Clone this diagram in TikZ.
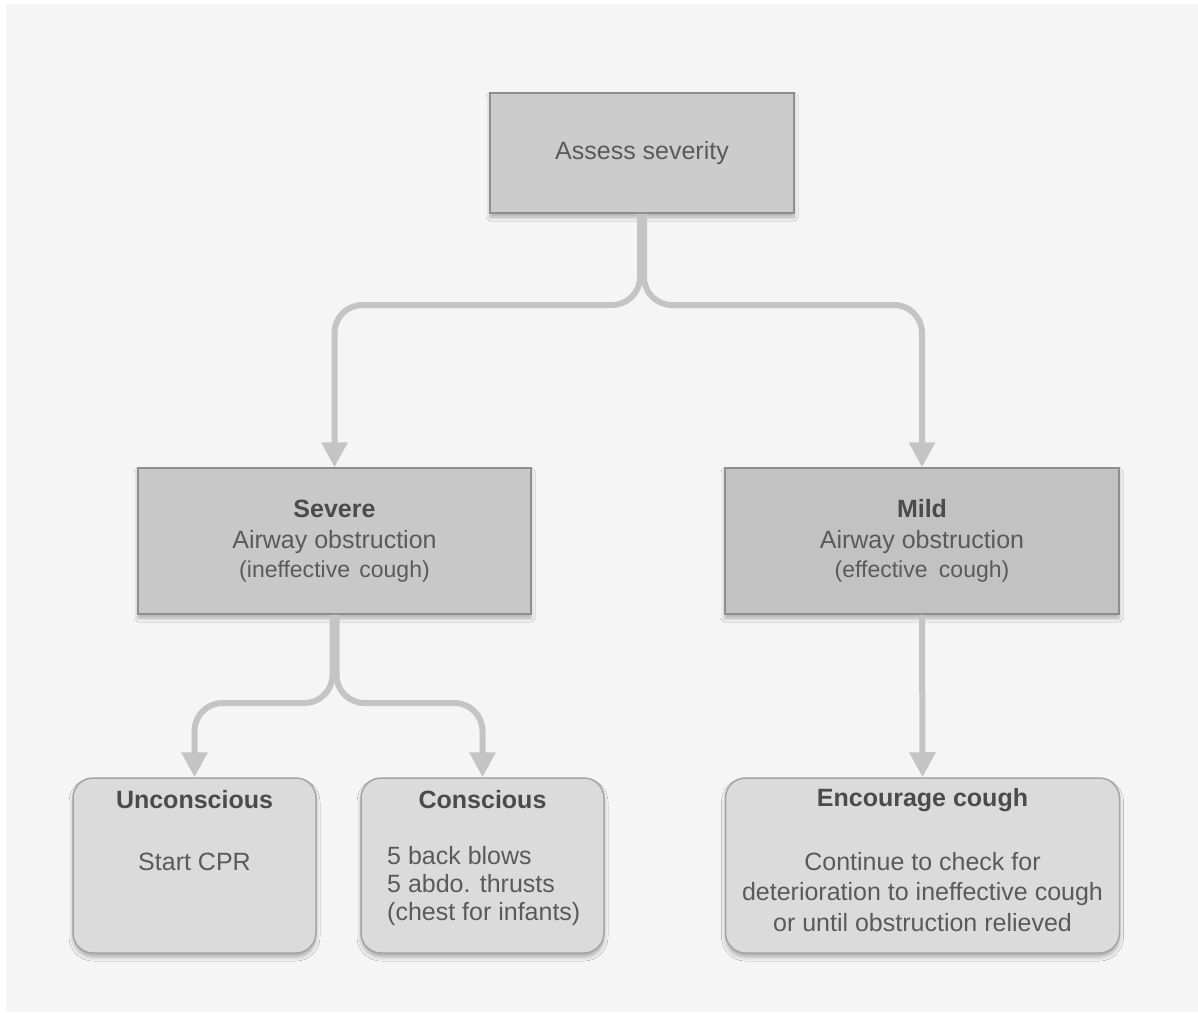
\documentclass[tikz,border=0pt]{standalone}
\usepackage{fontspec}
\setmainfont{Liberation Sans}
\usepackage{tikz}
\usetikzlibrary{arrows.meta,calc,shadows.blur}
\definecolor{bgpanel}{HTML}{F5F5F5}
\definecolor{linkgray}{HTML}{C4C4C4}
\definecolor{topedge}{HTML}{8E8E8E}
\definecolor{lowedge}{HTML}{A4A4A4}
\definecolor{txtgray}{HTML}{5A5A5A}
\definecolor{ttlgray}{HTML}{4B4B4B}
\newcommand{\bigtxt}{\fontsize{25}{31}\selectfont}
\newcommand{\smtxt}{\fontsize{23}{28}\selectfont}
\tikzset{
  linkln/.style   = {line width=6pt, draw=linkgray, rounded corners=28pt,
                     -{Triangle[length=25pt,width=25pt]}},
  softshadow/.style = {blur shadow={shadow xshift=0pt, shadow yshift=-4pt,
                     shadow blur radius=4pt, shadow opacity=30}},
  rectbox/.style  = {draw=topedge, line width=1.5pt, softshadow,
                     text=txtgray, font=\bigtxt, align=center, inner sep=0pt},
  roundbox/.style = {draw=lowedge, line width=1.5pt, fill=black!14,
                     rounded corners=20pt, softshadow, inner sep=0pt,
                     minimum width=243pt, minimum height=175pt},
  titletxt/.style = {font=\bigtxt\bfseries, text=ttlgray, inner sep=0pt},
  bodytxt/.style  = {font=\fontsize{25}{29}\selectfont, text=txtgray, inner sep=0pt}
}

\begin{document}
\begin{tikzpicture}[x=1pt,y=-1pt]
  \useasboundingbox (0,0) rectangle (1198,1012);
  \fill[bgpanel] (6,4) rectangle (1198,1012);

  % first level
  \node[rectbox,fill=black!20,minimum width=304pt,minimum height=120pt]
       (assess) at (642,153) {Assess severity};
  \node[rectbox,fill=black!21.5,minimum width=393pt,minimum height=146pt]
       (severe) at (334.5,541)
       {\textbf{\color{ttlgray}Severe}\\Airway obstruction\\[-2pt]
        {\smtxt (ineffective\hspace{3pt} cough)}};
  \node[rectbox,fill=black!24,minimum width=394pt,minimum height=146pt]
       (mild) at (922,541)
       {\textbf{\color{ttlgray}Mild}\\Airway obstruction\\[-2pt]
        {\smtxt (effective\hspace{5pt} cough)}};

  % bottom boxes
  \node[roundbox] (unc) at (194.5,865.5) {};
  \node[roundbox] (con) at (482.5,865.5) {};
  \node[roundbox,minimum width=394pt] (enc) at (922.5,865.5) {};

  \node[titletxt] (unc-title) at (194.5,800) {Unconscious};
  \node[bodytxt] (unc-body) at (194.5,862) {Start CPR};
  \node[titletxt] (con-title) at (482.5,800) {Conscious};
  \node[bodytxt,align=left,anchor=west,font=\fontsize{25}{28}\selectfont]
       (con-body) at (387,886)
       {5 back blows\\5 abdo. thrusts\\(chest for infants)};
  \node[titletxt] (enc-title) at (922.5,800) {Encourage cough};
  \node[bodytxt,align=center,font=\fontsize{25}{30.5}\selectfont]
       (enc-body) at (922.5,892)
       {Continue to check for\\deterioration to ineffective cough\\or until obstruction relieved};

  % connectors
  \coordinate (split1) at (642,305);
  \coordinate (split2) at (334.5,703);
  \draw[linkln] ([xshift=-2pt]assess.south) -- ([xshift=-2pt]split1) -| (severe.north);
  \draw[linkln] ([xshift=2pt]assess.south) -- ([xshift=2pt]split1) -| (mild.north);
  \draw[linkln] ([xshift=-2pt]severe.south) -- ([xshift=-2pt]split2) -| (unc.north);
  \draw[linkln] ([xshift=2pt]severe.south) -- ([xshift=2pt]split2) -| (con.north);
  \draw[linkln] (mild.south) -- (enc.north);
\end{tikzpicture}
\end{document}
